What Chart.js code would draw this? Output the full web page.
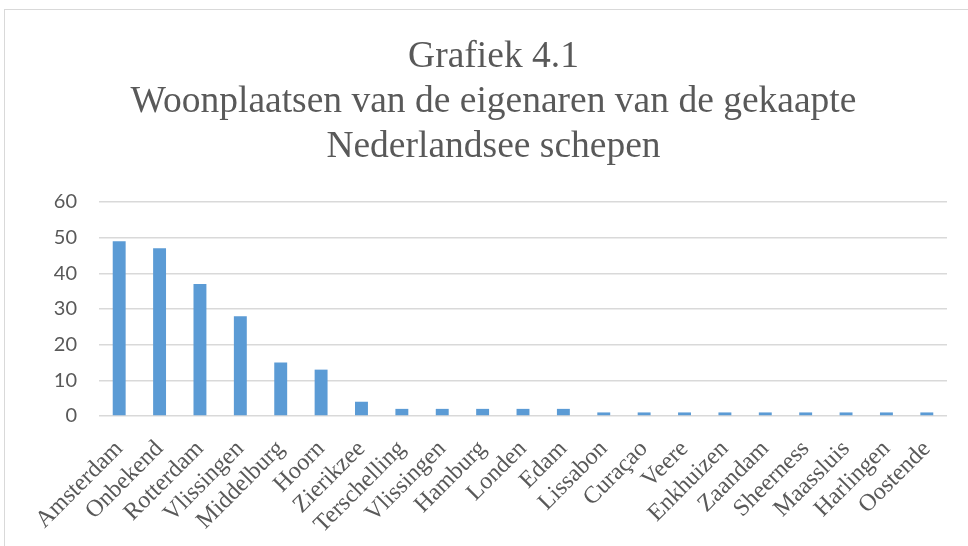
<!DOCTYPE html>
<html>
<head>
<meta charset="utf-8">
<script src="https://cdn.jsdelivr.net/npm/chart.js@4"></script>
<style>
    html, body { margin: 0; padding: 0; background: #fff; overflow: hidden; }
    #frame {
        position: absolute; left: 4px; top: 9px; width: 1000px; height: 600px;
        border: 1px solid #d9d9d9; box-sizing: border-box;
    }
    #wrap { position: absolute; left: 0; top: 0; width: 968px; height: 546px; }
</style>
</head>
<body>
<div id="frame"></div>
<div id="wrap"><canvas id="chart" width="968" height="546"></canvas></div>
<script>
const places = [
    "Amsterdam", "Onbekend", "Rotterdam", "Vlissingen", "Middelburg", "Hoorn",
    "Zierikzee", "Terschelling", "Vlissingen", "Hamburg", "Londen", "Edam",
    "Lissabon", "Curaçao", "Veere", "Enkhuizen", "Zaandam", "Sheerness",
    "Maassluis", "Harlingen", "Oostende",
];
const owners = [49, 47, 37, 28, 15, 13, 4, 2, 2, 2, 2, 2, 1, 1, 1, 1, 1, 1, 1, 1, 1];
const titleLines = [
    "Grafiek 4.1",
    "Woonplaatsen van de eigenaren van de gekaapte",
    "Nederlandsee schepen",
];

const textGrey = "#595959";
const gridGrey = "#d9d9d9";

new Chart(document.getElementById("chart").getContext("2d"), {
    type: "bar",
    data: {
        labels: places,
        datasets: [{
            data: owners,
            backgroundColor: "#5b9bd5",
            barPercentage: 0.32,
            categoryPercentage: 1,
        }],
    },
    options: {
        responsive: false,
        animation: false,
        layout: { padding: { left: 40, right: 21, top: 14, bottom: 0 } },
        plugins: {
            legend: { display: false },
            tooltip: { enabled: false },
            title: {
                display: true,
                text: titleLines,
                color: textGrey,
                font: { family: "Liberation Serif", size: 37.5, weight: "normal", lineHeight: 1.2 },
                padding: { top: 21, bottom: 32 },
            },
        },
        scales: {
            x: {
                grid: { display: false, drawTicks: false },
                border: { display: false },
                ticks: {
                    color: textGrey,
                    font: { family: "Liberation Serif", size: 24 },
                    minRotation: 45,
                    maxRotation: 45,
                    autoSkip: false,
                    padding: 19,
                },
                afterFit(scale) { scale.height = 130; },
            },
            y: {
                min: 0,
                max: 60,
                grid: { color: gridGrey, lineWidth: 1.5, drawTicks: false },
                border: { display: false },
                ticks: {
                    stepSize: 10,
                    color: textGrey,
                    font: { family: "Lato", size: 20 },
                    padding: 22,
                },
                afterFit(scale) { scale.width = 59; },
            },
        },
    },
});
</script>
</body>
</html>
